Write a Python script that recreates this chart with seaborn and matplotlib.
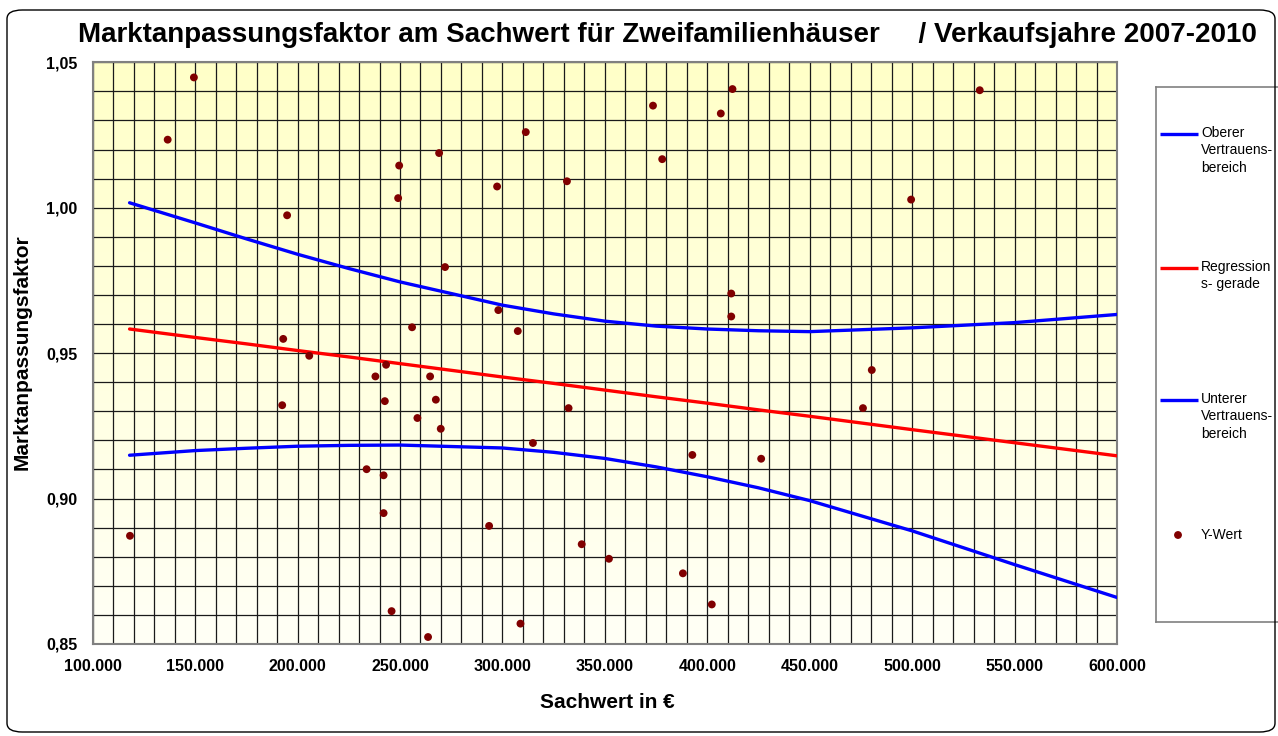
import numpy as np
import pandas as pd
import matplotlib
matplotlib.use("Agg")
import matplotlib.pyplot as plt
import seaborn as sns
from matplotlib.patches import FancyBboxPatch
from matplotlib.ticker import FuncFormatter, MultipleLocator

# Kaufpreise / Sachwerte (Y-Wert Punkte)
sachwert = [118200, 136600, 149400, 194900, 193000, 205700, 192500, 233700, 238000,
            242000, 242000, 242600, 243200, 245900, 249100, 249600, 255900, 258500,
            263700, 264700, 267500, 269100, 269900, 272000, 293500, 297400, 298000,
            307500, 308800, 311400, 314900, 331500, 332300, 338700, 352000, 373500,
            378000, 388100, 392700, 402200, 406600, 412300, 411700, 411700, 426300,
            476000, 480300, 499500, 533000]
faktor = [0.8872, 1.0234, 1.0448, 0.9974, 0.9549, 0.9491, 0.9321, 0.9101, 0.9420,
          0.9080, 0.8950, 0.9335, 0.9460, 0.8613, 1.0033, 1.0145, 0.9589, 0.9277,
          0.8524, 0.9420, 0.9340, 1.0188, 0.9240, 0.9796, 0.8906, 1.0073, 0.9648,
          0.9576, 0.8570, 1.0260, 0.9191, 1.0091, 0.9311, 0.8843, 0.8793, 1.0351,
          1.0167, 0.8743, 0.9150, 0.8636, 1.0324, 1.0408, 0.9705, 0.9626, 0.9137,
          0.9311, 0.9442, 1.0028, 1.0404]

# Regressionsgerade und Vertrauensbereiche
band_x = [118000, 150000, 175000, 200000, 225000, 250000, 300000, 325000, 350000,
          375000, 400000, 425000, 450000, 500000, 550000, 600000]
oberer = [1.0017, 0.9948, 0.9893, 0.9840, 0.9791, 0.9745, 0.9665, 0.9635, 0.9610,
          0.9593, 0.9583, 0.9577, 0.9574, 0.9587, 0.9605, 0.9633]
regression = [0.9583, 0.9554, 0.9532, 0.9509, 0.9487, 0.9464, 0.9418, 0.9396, 0.9373,
              0.9350, 0.9328, 0.9305, 0.9283, 0.9237, 0.9192, 0.9147]
unterer = [0.9149, 0.9165, 0.9173, 0.9180, 0.9183, 0.9184, 0.9174, 0.9159, 0.9138,
           0.9109, 0.9075, 0.9037, 0.8993, 0.8889, 0.8773, 0.8660]

df_punkte = pd.DataFrame({"Sachwert": sachwert, "Faktor": faktor})
df_band = pd.DataFrame({"x": band_x, "oben": oberer, "reg": regression, "unten": unterer})

sns.set_theme(style="white")
plt.rcParams["font.family"] = ["Liberation Sans", "DejaVu Sans"]
plt.rcParams["text.color"] = "black"

W, H = 1278, 736
fig = plt.figure(figsize=(W / 100, H / 100), dpi=100)
fig.patch.set_facecolor("white")

# abgerundeter Rahmen um das Diagramm
rahmen = FancyBboxPatch((7 / W, 4 / H), (1268 / W), (722 / H),
                        boxstyle="round,pad=0,rounding_size=0.012",
                        transform=fig.transFigure, fill=False, ec="black", lw=1.0)
fig.patches.append(rahmen)

ax = fig.add_axes([92.7 / W, (H - 644) / H, (1117 - 92.7) / W, (644 - 62.3) / H])

# Hintergrund-Verlauf (gelb -> fast weiss)
grad = np.linspace(0, 1, 256).reshape(-1, 1)
top = np.array([255, 255, 200]) / 255
bot = np.array([255, 255, 246]) / 255
img = top + (bot - top) * grad[:, :, None]
ax.imshow(img, aspect="auto", extent=[0, 1, 0, 1], transform=ax.transAxes, zorder=0)

sns.lineplot(data=df_band, x="x", y="oben", ax=ax, color="#0000FF", lw=2.4, zorder=3)
sns.lineplot(data=df_band, x="x", y="reg", ax=ax, color="#FF0000", lw=2.4, zorder=3)
sns.lineplot(data=df_band, x="x", y="unten", ax=ax, color="#0000FF", lw=2.4, zorder=3)
sns.scatterplot(data=df_punkte, x="Sachwert", y="Faktor", ax=ax, color="#800000",
                s=32, edgecolor="none", zorder=4)

ax.set_xlim(100000, 600000)
ax.set_ylim(0.85, 1.05)
ax.xaxis.set_major_locator(MultipleLocator(50000))
ax.xaxis.set_minor_locator(MultipleLocator(10000))
ax.yaxis.set_major_locator(MultipleLocator(0.05))
ax.yaxis.set_minor_locator(MultipleLocator(0.01))
ax.xaxis.set_major_formatter(FuncFormatter(lambda v, p: f"{v:,.0f}".replace(",", ".")))
ax.yaxis.set_major_formatter(FuncFormatter(lambda v, p: f"{v:.2f}".replace(".", ",")))
ax.grid(which="both", color="#1a1a1a", lw=0.9)
for gl in ax.get_xgridlines() + ax.get_ygridlines():
    gl.set_zorder(1)
ax.tick_params(which="major", direction="out", length=5, width=1, color="#808080",
               labelsize=11.5, labelcolor="black", pad=6)
ax.tick_params(which="minor", length=0)
for lab in ax.get_xticklabels() + ax.get_yticklabels():
    lab.set_fontweight("bold")
for sp in ax.spines.values():
    sp.set_color("#808080")
    sp.set_linewidth(1.5)
ax.set_xlabel("")
ax.set_ylabel("")

fig.text(667 / W, 1 - 35 / H, "Marktanpassungsfaktor am Sachwert für Zweifamilienhäuser     / Verkaufsjahre 2007-2010",
         ha="center", va="center", fontsize=20, fontweight="bold", color="black")
fig.text(607 / W, 1 - 703 / H, "Sachwert in €", ha="center", va="center",
         fontsize=15, fontweight="bold", color="black")
fig.text(22 / W, 1 - 352 / H, "Marktanpassungsfaktor", ha="center", va="center",
         rotation=90, fontsize=15, fontweight="bold", color="black")

# Legende als eigener Kasten
lx0, ly0, ly1 = 1155.7, 86.7, 621.7
lax = fig.add_axes([lx0 / W, (H - ly1) / H, (1300 - lx0) / W, (ly1 - ly0) / H])
lax.set_xlim(lx0, 1300)
lax.set_ylim(ly1, ly0)
lax.set_xticks([])
lax.set_yticks([])
lax.set_facecolor("white")
for sp in lax.spines.values():
    sp.set_color("#808080")
    sp.set_linewidth(1.2)

eintraege = [("Oberer\nVertrauens-\nbereich", "#0000FF", 134),
             ("Regression\ns- gerade", "#FF0000", 268),
             ("Unterer\nVertrauens-\nbereich", "#0000FF", 400)]
for text, farbe, yy in eintraege:
    lax.plot([1160, 1198], [yy, yy], color=farbe, lw=2.4, solid_capstyle="butt")
    lax.text(1201, yy - 8, text, ha="left", va="top", fontsize=10, linespacing=1.3,
             color="black")
lax.scatter([1178], [535], color="#800000", s=32, edgecolor="none")
lax.text(1201, 535, "Y-Wert", ha="left", va="center", fontsize=10, color="black")

fig.savefig("out.png", dpi=100)
